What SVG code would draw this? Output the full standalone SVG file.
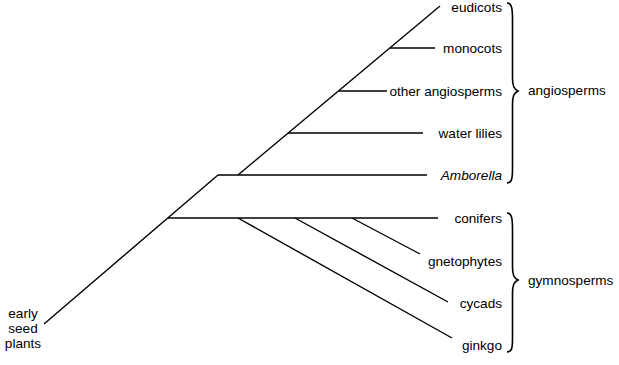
<svg xmlns="http://www.w3.org/2000/svg" width="619" height="365" viewBox="0 0 619 365">
<style>
.ln{stroke:#000;stroke-width:1.4;fill:none;stroke-linecap:butt}
.br{stroke:#000;stroke-width:1.6;fill:none}
text{font-family:"Liberation Sans",Arial,sans-serif;font-size:13.6px;fill:#000}
.r{text-anchor:end}
.c{text-anchor:middle}
</style>
<rect width="619" height="365" fill="#fff"/>
<g id="connectors">
<line class="ln" x1="44" y1="324" x2="218" y2="175"/>
<line class="ln" x1="218" y1="175" x2="427" y2="175"/>
<line class="ln" x1="238" y1="175" x2="440" y2="6"/>
<line class="ln" x1="390" y1="48" x2="435" y2="48"/>
<line class="ln" x1="339" y1="91" x2="387" y2="91"/>
<line class="ln" x1="288" y1="133" x2="423" y2="133"/>
<line class="ln" x1="168" y1="218" x2="438" y2="218"/>
<line class="ln" x1="238" y1="218" x2="452" y2="338"/>
<line class="ln" x1="295" y1="218" x2="448" y2="302"/>
<line class="ln" x1="352" y1="218" x2="420" y2="254"/>
</g>
<g id="root"><text class="c" x="23" y="318">early</text><text class="c" x="23" y="333">seed</text><text class="c" x="23" y="348">plants</text></g>
<g id="eudicots"><text class="r" x="502" y="12">eudicots</text></g>
<g id="monocots"><text class="r" x="502" y="53">monocots</text></g>
<g id="other-angiosperms"><text class="r" x="502" y="96">other angiosperms</text></g>
<g id="water-lilies"><text class="r" x="502" y="138">water lilies</text></g>
<g id="amborella"><text class="r" x="502" y="180" font-style="italic">Amborella</text></g>
<g id="conifers"><text class="r" x="502" y="223">conifers</text></g>
<g id="gnetophytes"><text class="r" x="502" y="266">gnetophytes</text></g>
<g id="cycads"><text class="r" x="502" y="308">cycads</text></g>
<g id="ginkgo"><text class="r" x="502" y="350">ginkgo</text></g>
<g id="angiosperms">
<path class="br" d="M507,3 C512,3 512.5,9 512.5,20 L512.5,78 C512.5,86 514,89 518,91 C514,93 512.5,96 512.5,104 L512.5,168 C512.5,178 512,183 507,183"/>
<text x="528" y="95">angiosperms</text>
</g>
<g id="gymnosperms">
<path class="br" d="M507,213 C512,213 512.5,219 512.5,230 L512.5,267 C512.5,275 514,278 518,280 C514,282 512.5,285 512.5,293 L512.5,338 C512.5,348 512,352 507,352"/>
<text x="528" y="285">gymnosperms</text>
</g>
</svg>
